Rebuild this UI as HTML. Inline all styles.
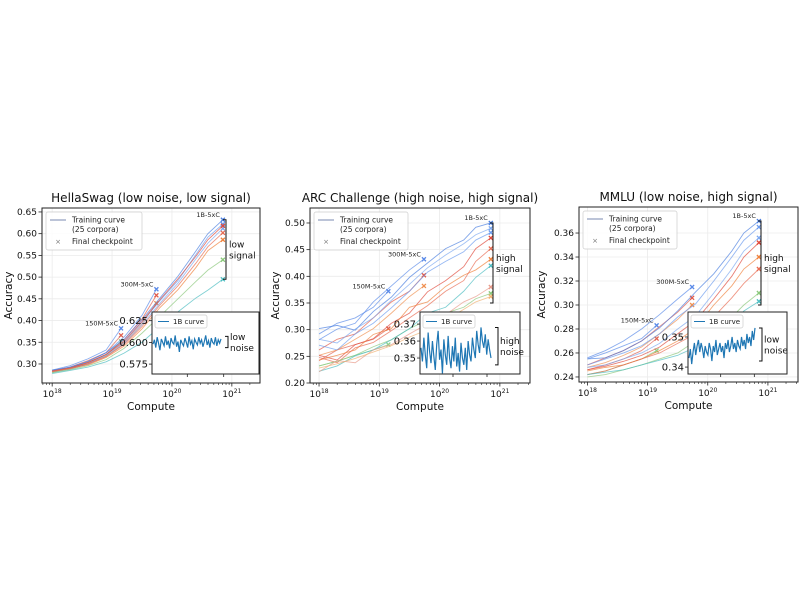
<!DOCTYPE html>
<html><head><meta charset="utf-8">
<style>
body{margin:0;background:#fff;}
svg{display:block;font-family:"DejaVu Sans","Liberation Sans",sans-serif;}
</style></head>
<body>
<svg id="fig" width="800" height="600" viewBox="0 0 800 600"></svg>
<script>
// ---- data ----
const xs1B=[18.0,18.3,18.6,18.9,19.2,19.5,19.8,20.1,20.4,20.6,20.85];
const xs300=[18.0,18.3,18.6,18.9,19.2,19.5,19.74];
const xs150=[18.0,18.3,18.6,18.9,19.15];

const hs1B=[
[0.286,0.292,0.306,0.326,0.356,0.402,0.452,0.502,0.560,0.600,0.632],
[0.283,0.290,0.301,0.321,0.350,0.396,0.446,0.492,0.552,0.592,0.622],
[0.281,0.288,0.300,0.318,0.346,0.390,0.440,0.486,0.542,0.578,0.612],
[0.284,0.291,0.303,0.322,0.352,0.398,0.448,0.496,0.548,0.586,0.618],
[0.282,0.290,0.298,0.315,0.341,0.381,0.430,0.471,0.522,0.561,0.586],
[0.283,0.289,0.300,0.317,0.345,0.386,0.436,0.480,0.532,0.570,0.602],
[0.280,0.287,0.296,0.310,0.336,0.371,0.410,0.450,0.490,0.516,0.540],
[0.278,0.285,0.293,0.305,0.325,0.350,0.386,0.420,0.452,0.470,0.495]];
const hs300=[[0.285,0.293,0.306,0.326,0.362,0.412,0.472],[0.283,0.291,0.304,0.322,0.356,0.404,0.458],[0.282,0.290,0.301,0.318,0.348,0.392,0.440]];
const hs150=[[0.286,0.296,0.312,0.332,0.382],[0.284,0.293,0.308,0.326,0.366],[0.280,0.290,0.304,0.320,0.352]];
const hsInset=[0.598,0.603,0.594,0.606,0.599,0.591,0.604,0.600,0.596,0.607,0.597,0.602,0.593,0.605,0.600,0.598,0.608,0.595,0.601,0.589,0.603,0.599,0.596,0.605,0.600,0.594,0.607,0.598,0.602,0.592,0.604,0.600,0.597,0.606,0.599,0.603,0.595,0.601,0.608,0.597,0.602,0.594,0.605,0.600,0.598,0.606,0.596,0.603,0.599,0.604];

const arc1B=[
[0.302,0.308,0.299,0.334,0.361,0.398,0.425,0.452,0.468,0.492,0.500],
[0.271,0.262,0.292,0.312,0.341,0.372,0.408,0.428,0.446,0.468,0.482],
[0.282,0.275,0.301,0.322,0.355,0.385,0.416,0.440,0.461,0.478,0.490],
[0.252,0.243,0.272,0.283,0.312,0.331,0.371,0.392,0.418,0.452,0.472],
[0.243,0.252,0.262,0.291,0.302,0.342,0.352,0.381,0.402,0.412,0.432],
[0.248,0.238,0.266,0.276,0.298,0.322,0.345,0.372,0.392,0.428,0.452],
[0.232,0.241,0.252,0.268,0.281,0.302,0.318,0.331,0.342,0.358,0.368],
[0.222,0.232,0.251,0.262,0.281,0.302,0.331,0.342,0.372,0.398,0.420],
[0.221,0.242,0.238,0.262,0.272,0.292,0.311,0.328,0.352,0.362,0.380],
[0.228,0.236,0.246,0.258,0.270,0.286,0.300,0.318,0.338,0.352,0.362]];
const arc300=[[0.281,0.301,0.312,0.352,0.382,0.412,0.432],[0.262,0.282,0.292,0.322,0.352,0.372,0.402],[0.252,0.262,0.282,0.302,0.331,0.362,0.382]];
const arc150=[[0.292,0.312,0.322,0.342,0.372],[0.242,0.262,0.272,0.282,0.302],[0.232,0.241,0.252,0.262,0.272]];
const arcInset=[0.356,0.348,0.362,0.352,0.344,0.365,0.354,0.347,0.360,0.351,0.343,0.358,0.366,0.349,0.355,0.341,0.361,0.352,0.346,0.363,0.350,0.344,0.357,0.348,0.362,0.345,0.353,0.342,0.359,0.350,0.346,0.356,0.343,0.360,0.352,0.348,0.362,0.355,0.350,0.366,0.358,0.353,0.368,0.360,0.356,0.364,0.352,0.361,0.355,0.350];

const mm1B=[
[0.255,0.256,0.262,0.270,0.281,0.295,0.311,0.326,0.345,0.360,0.370],
[0.250,0.255,0.260,0.266,0.276,0.290,0.301,0.320,0.340,0.354,0.365],
[0.248,0.250,0.255,0.260,0.268,0.280,0.291,0.310,0.330,0.345,0.356],
[0.246,0.249,0.253,0.258,0.265,0.276,0.287,0.305,0.324,0.340,0.352],
[0.245,0.248,0.250,0.255,0.262,0.270,0.281,0.300,0.316,0.330,0.340],
[0.242,0.245,0.250,0.255,0.260,0.268,0.276,0.290,0.306,0.318,0.330],
[0.240,0.242,0.246,0.250,0.255,0.260,0.270,0.280,0.290,0.300,0.310],
[0.242,0.244,0.246,0.250,0.254,0.258,0.265,0.275,0.285,0.295,0.303]];
const mm300=[[0.256,0.262,0.270,0.280,0.292,0.305,0.315],[0.250,0.256,0.262,0.270,0.282,0.294,0.306],[0.248,0.252,0.258,0.265,0.276,0.288,0.300]];
const mm150=[[0.255,0.260,0.266,0.272,0.283],[0.246,0.250,0.255,0.262,0.272],[0.242,0.245,0.250,0.255,0.262]];
const mmInset=[0.343,0.346,0.341,0.345,0.348,0.344,0.347,0.349,0.345,0.348,0.346,0.343,0.347,0.345,0.344,0.348,0.346,0.342,0.347,0.345,0.349,0.344,0.346,0.348,0.345,0.347,0.343,0.348,0.346,0.349,0.345,0.347,0.350,0.346,0.348,0.345,0.349,0.347,0.346,0.350,0.347,0.349,0.346,0.351,0.348,0.350,0.347,0.352,0.349,0.353];

const palette1B=['#4a7fe0','#6a9aee','#7aa6f0','#e0483a','#f0803a','#e86a50','#8ac87a','#4abcc0','#e89a8a','#f0b070'];
const palette300=['#5a8ae8','#e25a48','#f09050'];
const palette150=['#5a8ae8','#e06050','#8ad08a'];

// ---- rendering ----
const NS='http://www.w3.org/2000/svg';
const svg=document.getElementById('fig');
function mk(tag,attrs,parent,text){const e=document.createElementNS(NS,tag);for(const k in attrs)e.setAttribute(k,attrs[k]);if(text!==undefined)e.textContent=text;(parent||svg).appendChild(e);return e;}

function panel(c){
  const g=mk('g',{});
  
  
  const X=v=>c.L+(v-c.xmin)/(c.xmax-c.xmin)*(c.R-c.L);
  const Y=v=>c.B-(v-c.ymin)/(c.ymax-c.ymin)*(c.B-c.T);
  for(let d=18;d<=21;d++){const l=mk('line',{x1:X(d),x2:X(d),y1:c.T,y2:c.B,stroke:'#ebebeb','stroke-width':0.8},g);}
  c.yticks.forEach(t=>{const l=mk('line',{x1:c.L,x2:c.R,y1:Y(t),y2:Y(t),stroke:'#ebebeb','stroke-width':0.8},g);});
  const groups=[[xs150,c.c150,palette150],[xs300,c.c300,palette300],[xs1B,c.c1B,palette1B]];
  groups.forEach(([xs,cs,pal])=>{cs.forEach((ys,i)=>{
    const p=mk('polyline',{points:ys.map((y,j)=>X(xs[j])+','+Y(y)).join(' '),fill:'none',stroke:pal[i%pal.length],'stroke-width':0.9,'stroke-opacity':0.7},g);
    
    
    const ex=X(xs[xs.length-1]),ey=Y(ys[ys.length-1]);
    const m=mk('path',{d:`M${ex-2},${ey-2}L${ex+2},${ey+2}M${ex-2},${ey+2}L${ex+2},${ey-2}`,stroke:pal[i%pal.length],'stroke-width':1.3},g);
    
    
  });});
  [['1B-5xC',c.c1B,xs1B],['300M-5xC',c.c300,xs300],['150M-5xC',c.c150,xs150]].forEach(([t,cs,xs])=>{
    const mx=Math.max(...cs.map(a=>a[a.length-1]));
    const tx=mk('text',{x:X(xs[xs.length-1])-3,y:Y(mx)-3,'font-size':6.5,'text-anchor':'end',fill:'#222'},g,t);
    
    
  });
  const bx=c.bx,b1=Y(c.bTop),b2=Y(c.bBot);
  const br=mk('path',{d:`M${bx-3},${b1}H${bx}V${b2}H${bx-3}`,fill:'none',stroke:'#111','stroke-width':1},g);
  
  
  const st=mk('text',{x:bx+3,y:(b1+b2)/2-2,'font-size':9,fill:'#111'},g);
  
  
  mk('tspan',{x:bx+3},st,c.sig[0]);mk('tspan',{x:bx+3,dy:11},st,c.sig[1]);
  const I=c.inset;
  const ir=mk('rect',{x:I.L,y:I.T,width:I.R-I.L,height:I.B-I.T,fill:'#fff',stroke:'#222','stroke-width':1},g);
  
  
  const IY=v=>I.B-(v-I.ymin)/(I.ymax-I.ymin)*(I.B-I.T);
  const IX=i=>I.L+1+i/(I.data.length-1)*(I.cw-2);
  const ip=mk('polyline',{points:I.data.map((v,i)=>IX(i)+','+IY(v)).join(' '),fill:'none',stroke:'#1f77b4','stroke-width':1.2},g);
  
  
  I.ticks.forEach(t=>{mk('line',{x1:I.L,x2:I.L-3,y1:IY(t),y2:IY(t),stroke:'#222','stroke-width':0.8},g);
    const tt=mk('text',{x:I.L-4,y:IY(t)+3.5,'font-size':10,'text-anchor':'end',fill:'#111'},g,I.fmt(t));
    });
  [0.33,0.67].forEach(f=>mk('line',{x1:I.L+f*(I.R-I.L),x2:I.L+f*(I.R-I.L),y1:I.B,y2:I.B+3,stroke:'#222','stroke-width':0.8},g));
  const ilg=mk('rect',{x:I.L+3,y:I.T+3,width:52,height:13,fill:'#fff',stroke:'#ccc','stroke-width':0.7,rx:2},g);
  
  mk('line',{x1:I.L+6,x2:I.L+17,y1:I.T+9.5,y2:I.T+9.5,stroke:'#1f77b4','stroke-width':1},g);
  mk('text',{x:I.L+21,y:I.T+12,'font-size':7,fill:'#222'},g,'1B curve');
  const ib1=IY(I.bTop),ib2=IY(I.bBot),ibx=I.R-(I.R-I.L-I.cw)+3;
  mk('path',{d:`M${ibx},${ib1}H${ibx+3}V${ib2}H${ibx}`,fill:'none',stroke:'#111','stroke-width':1},g);
  const nt=mk('text',{x:ibx+5,y:(ib1+ib2)/2-2,'font-size':9,fill:'#111'},g);
  
  mk('tspan',{x:ibx+5},nt,c.noise[0]);mk('tspan',{x:ibx+5,dy:11},nt,c.noise[1]);
  const fr=mk('rect',{x:c.L,y:c.T,width:c.R-c.L,height:c.B-c.T,fill:'none',stroke:'#222','stroke-width':1},g);
  
  for(let d=18;d<=21;d++){
    mk('line',{x1:X(d),x2:X(d),y1:c.B,y2:c.B+3.5,stroke:'#222','stroke-width':0.8},g);
    const t=mk('text',{x:X(d),y:c.B+14,'font-size':9,'text-anchor':'middle',fill:'#111'},g);
    
    mk('tspan',{},t,'10');mk('tspan',{'font-size':6,dy:-4},t,String(d));
    for(let k=2;k<10;k++){const v=d+Math.log10(k);if(v<c.xmax&&v>c.xmin)mk('line',{x1:X(v),x2:X(v),y1:c.B,y2:c.B+2,stroke:'#222','stroke-width':0.6},g);}
  }
  for(let k=2;k<10;k++){const v=17+Math.log10(k);if(v>c.xmin)mk('line',{x1:X(v),x2:X(v),y1:c.B,y2:c.B+2,stroke:'#222','stroke-width':0.6},g);}
  c.yticks.forEach(t=>{
    mk('line',{x1:c.L,x2:c.L-3.5,y1:Y(t),y2:Y(t),stroke:'#222','stroke-width':0.8},g);
    const tl=mk('text',{x:c.L-5,y:Y(t)+3,'font-size':9,'text-anchor':'end',fill:'#111'},g,c.yfmt(t));
    
  });
  const xl=mk('text',{x:(c.L+c.R)/2,y:c.B+27,'font-size':10.5,'text-anchor':'middle',fill:'#111'},g,'Compute');
  
  const yl=mk('text',{x:0,y:0,'font-size':10.5,'text-anchor':'middle',fill:'#111',transform:`translate(${c.ylx},${(c.T+c.B)/2}) rotate(-90)`},g,'Accuracy');
  
  const ti=mk('text',{x:(c.L+c.R)/2,y:c.T-6,'font-size':12,'text-anchor':'middle',fill:'#111'},g,c.title);
  
  const lg=mk('rect',{x:c.L+4,y:c.T+4,width:c.lgw,height:38,fill:'#fff','fill-opacity':0.85,stroke:'#ccc','stroke-width':0.7,rx:2},g);
  
  const le1=mk('line',{x1:c.L+8,x2:c.L+24,y1:c.T+12,y2:c.T+12,stroke:'#7a8ab0','stroke-width':1},g);
  
  mk('text',{x:c.L+30,y:c.T+14.5,'font-size':7.5,fill:'#222'},g,'Training curve');
  mk('text',{x:c.L+30,y:c.T+24,'font-size':7.5,fill:'#222'},g,'(25 corpora)');
  const le2=mk('text',{x:c.L+16,y:c.T+36,'font-size':7,'text-anchor':'middle',fill:'#777'},g,'×');
  
  mk('text',{x:c.L+30,y:c.T+36,'font-size':7.5,fill:'#222'},g,'Final checkpoint');
}

panel({name:'hellaswag-panel',title:'HellaSwag (low noise, low signal)',L:42,R:260,T:208,B:383,xmin:17.83,xmax:21.47,ymin:0.2562,ymax:0.6591,
  yticks:[0.30,0.35,0.40,0.45,0.50,0.55,0.60,0.65],yfmt:v=>v.toFixed(2),ylx:12,lgw:96,
  c1B:hs1B,c300:hs300,c150:hs150,bx:226,bTop:0.632,bBot:0.495,sig:['low','signal'],noise:['low','noise'],
  inset:{L:152,R:259,T:312,B:374,cw:70,ymin:0.5636,ymax:0.6350,ticks:[0.575,0.600,0.625],fmt:v=>v.toFixed(3),data:hsInset,bTop:0.607,bBot:0.594}});
panel({name:'arc-challenge-panel',title:'ARC Challenge (high noise, high signal)',L:310,R:530,T:208,B:383,xmin:17.85,xmax:21.5,ymin:0.20,ymax:0.5281,
  yticks:[0.20,0.25,0.30,0.35,0.40,0.45,0.50],yfmt:v=>v.toFixed(2),ylx:279,lgw:94,
  c1B:arc1B,c300:arc300,c150:arc150,bx:493,bTop:0.50,bBot:0.35,sig:['high','signal'],noise:['high','noise'],
  inset:{L:420,R:520,T:312,B:374,cw:72,ymin:0.3406,ymax:0.3771,ticks:[0.35,0.36,0.37],fmt:v=>v.toFixed(2),data:arcInset,bTop:0.368,bBot:0.346}});
panel({name:'mmlu-panel',title:'MMLU (low noise, high signal)',L:579,R:798,T:207,B:382,xmin:17.86,xmax:21.5,ymin:0.2358,ymax:0.3817,
  yticks:[0.24,0.26,0.28,0.30,0.32,0.34,0.36],yfmt:v=>v.toFixed(2),ylx:545,lgw:94,
  c1B:mm1B,c300:mm300,c150:mm150,bx:761,bTop:0.370,bBot:0.300,sig:['high','signal'],noise:['low','noise'],
  inset:{L:688,R:787,T:312,B:374,cw:68,ymin:0.3377,ymax:0.3583,ticks:[0.34,0.35],fmt:v=>v.toFixed(2),data:mmInset,bTop:0.353,bBot:0.342}});
</script>
</body></html>
